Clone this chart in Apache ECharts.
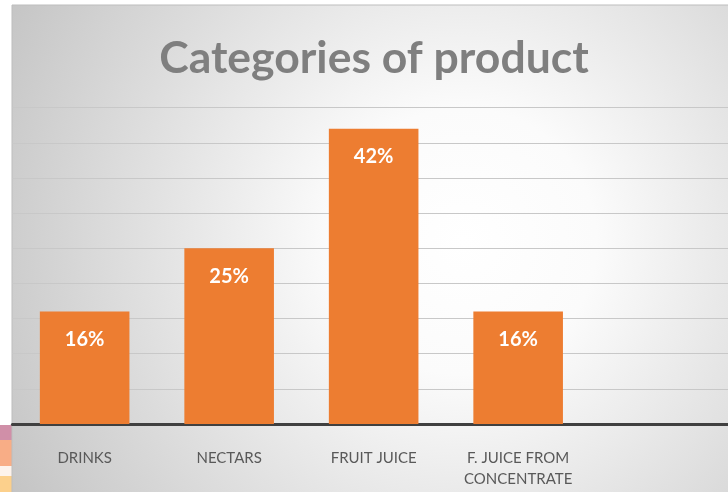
<!DOCTYPE html>
<html>
<head>
<meta charset="utf-8">
<script src="https://cdn.jsdelivr.net/npm/echarts@6/dist/echarts.min.js"></script>
<style>
  html, body { margin: 0; padding: 0; background: #ffffff; overflow: hidden; }
  #chart { width: 740px; height: 492px; }
</style>
</head>
<body>
<div id="chart"></div>
<script>
// Product categories and their share (%)
const categories = ['DRINKS', 'NECTARS', 'FRUIT JUICE', 'F. JUICE FROM\nCONCENTRATE', ''];
const shares = [16, 25, 42, 16, null];

const chart = echarts.init(document.getElementById('chart'));

chart.setOption({
  animation: false,
  graphic: [
    // panel background with a soft radial light
    {
      type: 'rect',
      z: -10,
      silent: true,
      shape: { x: 12, y: 5, width: 728, height: 492 },
      style: {
        fill: {
          type: 'radial', x: 0.62, y: 0.48, r: 1.08,
          colorStops: [
            { offset: 0, color: '#ffffff' },
            { offset: 0.25, color: '#fbfbfb' },
            { offset: 1, color: '#c2c2c2' }
          ]
        },
        stroke: '#bdbdbd',
        lineWidth: 1
      }
    },
    // coloured slide strip peeking at the lower left edge
    { type: 'rect', z: -11, silent: true, shape: { x: 0, y: 425, width: 12, height: 15 }, style: { fill: '#d08fa8' } },
    { type: 'rect', z: -11, silent: true, shape: { x: 0, y: 440, width: 12, height: 26 }, style: { fill: '#f8ad86' } },
    { type: 'rect', z: -11, silent: true, shape: { x: 0, y: 466, width: 12, height: 10 }, style: { fill: '#fdf3ec' } },
    { type: 'rect', z: -11, silent: true, shape: { x: 0, y: 476, width: 12, height: 16 }, style: { fill: '#fcd08c' } }
  ],
  title: {
    text: 'Categories of product',
    left: 369,
    textAlign: 'center',
    top: 31,
    textStyle: {
      fontFamily: 'Lato',
      fontWeight: 'bold',
      fontSize: 44.5,
      color: '#7f7f7f'
    }
  },
  grid: {
    left: 12.4,
    width: 722.5,
    top: 107.7,
    bottom: 68,
    containLabel: false
  },
  xAxis: {
    type: 'category',
    data: categories,
    axisLine: { show: true, lineStyle: { color: '#404040', width: 3 } },
    axisTick: { show: false },
    axisLabel: {
      interval: 0,
      margin: 24,
      fontFamily: 'Lato',
      fontSize: 15,
      color: '#595959',
      lineHeight: 21
    }
  },
  yAxis: {
    type: 'value',
    min: 0,
    max: 45,
    interval: 5,
    axisLabel: { show: false },
    axisLine: { show: false },
    axisTick: { show: false },
    splitLine: { show: true, lineStyle: { color: '#c8c8c8', width: 1.2 } }
  },
  series: [
    {
      type: 'bar',
      data: shares,
      barCategoryGap: '38%',
      itemStyle: { color: '#ed7d31' },
      label: {
        show: true,
        position: 'insideTop',
        distance: 18,
        formatter: '{c}%',
        fontFamily: 'Lato',
        fontWeight: 'bold',
        fontSize: 20,
        color: '#ffffff'
      }
    }
  ]
});
</script>
</body>
</html>
